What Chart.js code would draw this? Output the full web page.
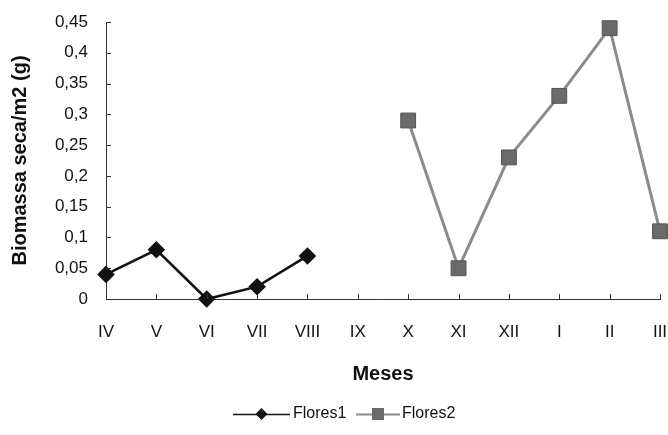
<!DOCTYPE html>
<html>
<head>
<meta charset="utf-8">
<script src="https://cdn.jsdelivr.net/npm/chart.js@4/dist/chart.umd.min.js"></script>
<style>
  html, body { margin: 0; padding: 0; background: #fff; }
  #wrap { width: 668px; height: 435px; }
</style>
</head>
<body>
<div id="wrap"><canvas id="c" width="668" height="435"></canvas></div>
<script>
// Months (Roman numerals), April through March
const meses = ['IV', 'V', 'VI', 'VII', 'VIII', 'IX', 'X', 'XI', 'XII', 'I', 'II', 'III'];
// Dry biomass per m2 (g) for each flowering period
const flores1 = [0.04, 0.08, 0, 0.02, 0.07, null, null, null, null, null, null, null];
const flores2 = [null, null, null, null, null, null, 0.29, 0.05, 0.23, 0.33, 0.44, 0.11];
const yTicks = [0, 0.05, 0.1, 0.15, 0.2, 0.25, 0.3, 0.35, 0.4, 0.45];

const FONT = "'Liberation Sans', Arial, sans-serif";
const C1 = '#111111';
const C2line = '#8c8c8c';
const C2fill = '#6a6a6a';

// Short tick marks drawn inward from both axes
const innerTicks = {
  id: 'innerTicks',
  afterDraw(chart) {
    const { ctx, scales: { x, y } } = chart;
    ctx.save();
    ctx.strokeStyle = '#333';
    ctx.lineWidth = 1;
    const ax = x.left, by = y.bottom;
    yTicks.forEach(v => {
      const py = Math.round(y.getPixelForValue(v)) + 0.5;
      ctx.beginPath(); ctx.moveTo(ax, py); ctx.lineTo(ax + 5, py); ctx.stroke();
    });
    meses.forEach((m, i) => {
      const px = Math.round(x.getPixelForValue(i)) + 0.5;
      ctx.beginPath(); ctx.moveTo(px, by); ctx.lineTo(px, by - 5); ctx.stroke();
    });
    ctx.restore();
  }
};

// Legend row: line segment with the series marker, then the series name
const lineLegend = {
  id: 'lineLegend',
  afterDraw(chart) {
    const ctx = chart.ctx;
    const cy = 414;
    const items = [
      { x0: 233, x1: 290, tx: 293 },
      { x0: 356, x1: 400, tx: 402 }
    ];
    ctx.save();
    chart.data.datasets.forEach((d, i) => {
      const it = items[i];
      const mx = (it.x0 + it.x1) / 2;
      ctx.strokeStyle = d.borderColor;
      ctx.lineWidth = i === 0 ? 1.5 : 2;
      ctx.beginPath(); ctx.moveTo(it.x0, cy + 0.5); ctx.lineTo(it.x1, cy + 0.5); ctx.stroke();
      ctx.fillStyle = d.pointBackgroundColor;
      if (d.pointStyle === 'rectRot') {
        ctx.beginPath();
        ctx.moveTo(mx, cy - 6); ctx.lineTo(mx + 6, cy); ctx.lineTo(mx, cy + 6); ctx.lineTo(mx - 6, cy);
        ctx.closePath(); ctx.fill();
      } else {
        ctx.fillRect(mx - 6, cy - 6, 12, 12);
      }
      ctx.fillStyle = '#111';
      ctx.font = '16px ' + FONT;
      ctx.textBaseline = 'middle';
      ctx.textAlign = 'left';
      ctx.fillText(d.label, it.tx, cy);
    });
    ctx.restore();
  }
};

new Chart(document.getElementById('c'), {
  type: 'line',
  data: {
    labels: meses,
    datasets: [
      {
        label: 'Flores1',
        data: flores1,
        borderColor: C1,
        backgroundColor: C1,
        borderWidth: 2.5,
        pointStyle: 'rectRot',
        pointRadius: 7,
        pointBackgroundColor: C1,
        pointBorderColor: C1,
        spanGaps: false,
        tension: 0,
        clip: false
      },
      {
        label: 'Flores2',
        data: flores2,
        borderColor: C2line,
        backgroundColor: C2fill,
        borderWidth: 3,
        pointStyle: 'rect',
        pointRadius: 10.5,
        pointBackgroundColor: C2fill,
        pointBorderColor: '#555',
        pointBorderWidth: 1,
        spanGaps: false,
        tension: 0,
        clip: false
      }
    ]
  },
  options: {
    responsive: false,
    animation: false,
    devicePixelRatio: 1,
    layout: { autoPadding: false, padding: { left: 0, right: 8, top: 0, bottom: 38 } },
    plugins: {
      tooltip: { enabled: false },
      legend: { display: false }
    },
    scales: {
      x: {
        type: 'category',
        offset: false,
        grid: { display: false, drawTicks: false },
        border: { display: true, color: '#333', width: 1 },
        ticks: { padding: 23, color: '#111', font: { family: FONT, size: 17 }, maxRotation: 0, autoSkip: false },
        title: { display: true, text: 'Meses', color: '#111', font: { family: FONT, size: 20, weight: 'bold' }, padding: { top: 0, bottom: 11 } },
        afterFit(s) { s.height = 98; s.paddingRight = 0; s.paddingLeft = 0; }
      },
      y: {
        min: 0,
        max: 0.45,
        grid: { display: false, drawTicks: false },
        border: { display: true, color: '#333', width: 1 },
        afterBuildTicks(s) { s.ticks = yTicks.map(v => ({ value: v })); },
        ticks: {
          padding: 18,
          color: '#111',
          font: { family: FONT, size: 17 },
          callback: v => String(Math.round(v * 100) / 100).replace('.', ',')
        },
        title: { display: true, text: 'Biomassa seca/m2 (g)', color: '#111', font: { family: FONT, size: 20, weight: 'bold' }, padding: { top: 8, bottom: 0 } },
        afterFit(s) { s.width = 106; s.paddingTop = 22; s.paddingBottom = 0; }
      }
    }
  },
  plugins: [innerTicks, lineLegend]
});
</script>
</body>
</html>
